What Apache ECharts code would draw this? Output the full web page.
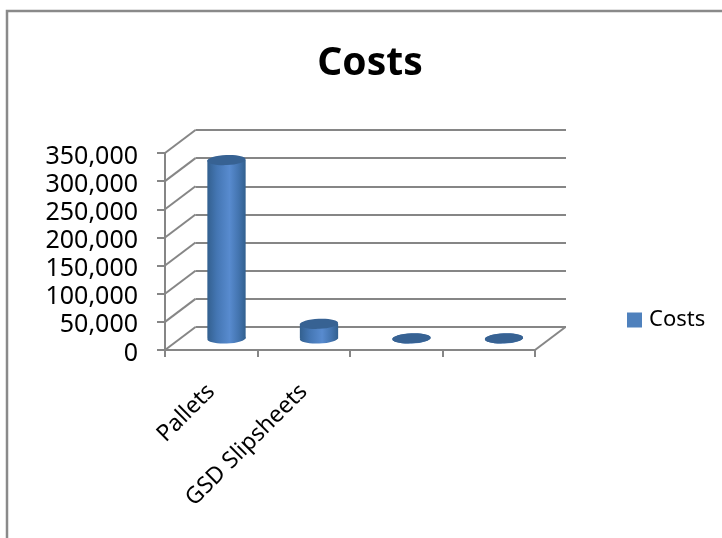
<!DOCTYPE html>
<html>
<head>
<meta charset="utf-8">
<style>html,body{margin:0;padding:0;background:#fff}#c{width:722px;height:538px}</style>
<script src="https://cdn.jsdelivr.net/npm/echarts@6/dist/echarts.min.js"></script>
</head>
<body>
<div id="c"></div>
<script>
const categories = ['Pallets', 'GSD Slipsheets', '', ''];
const costs = [317000, 26000, 300, 300];
const yTicks = [0, 50000, 100000, 150000, 200000, 250000, 300000, 350000];
const seriesName = 'Costs';

const DEPTH_X = 30.5, DEPTH_Y = -23;
const LINE = '#868686';
const FONT = '"Noto Sans", sans-serif';
const chart = echarts.init(document.getElementById('c'), null, {renderer: 'canvas'});

function wallLine(p0, p1) {
  return {type: 'line', shape: {x1: p0[0], y1: p0[1], x2: p1[0], y2: p1[1]},
    style: {stroke: LINE, lineWidth: 2}, silent: true};
}
function renderWall(params, api) {
  const halfBand = api.size([1, 0])[0] / 2;
  const p = api.coord([0, api.value(0)]);
  const front = [p[0] - halfBand, p[1]];
  const kids = [wallLine(front, [front[0] + DEPTH_X, front[1] + DEPTH_Y])];
  if (api.value(0) === 0) {
    const q = api.coord([categories.length - 1, 0]);
    const fr = [q[0] + halfBand, q[1]];
    kids.push(wallLine(fr, [fr[0] + DEPTH_X, fr[1] + DEPTH_Y]));
  }
  return {type: 'group', children: kids};
}
function renderBar(params, api) {
  const base = api.coord([api.value(0), 0]);
  const top = api.coord([api.value(0), api.value(1)]);
  const cx = base[0] + DEPTH_X / 2;
  const by = base[1] + DEPTH_Y / 2;
  const ty = top[1] + DEPTH_Y / 2;
  const rx = api.size([1, 0])[0] * 0.207;
  const ry = 5, tilt = 0.045;
  const grad = new echarts.graphic.LinearGradient(0, 0, 1, 0, [
    {offset: 0, color: '#33608F'},
    {offset: 0.25, color: '#4476B3'},
    {offset: 0.58, color: '#588BCF'},
    {offset: 0.82, color: '#4374AF'},
    {offset: 1, color: '#32608F'}
  ]);
  const ell = (y, fill) => ({type: 'ellipse',
    x: cx, y: y, rotation: tilt,
    shape: {cx: 0, cy: 0, rx: rx, ry: ry},
    style: {fill: fill}});
  return {type: 'group', children: [
    ell(by, grad),
    {type: 'rect', shape: {x: cx - rx, y: ty, width: rx * 2, height: Math.max(by - ty, 0)}, style: {fill: grad}},
    ell(ty, '#376293')
  ]};
}

chart.setOption({
  animation: false,
  backgroundColor: '#fff',
  title: {text: 'Costs', left: 365, top: 39, textAlign: 'center',
    textStyle: {fontFamily: FONT, fontSize: 39, fontWeight: 'bold', color: '#000'}},
  legend: {data: [seriesName], left: 622, top: 304, itemWidth: 15, itemHeight: 15, itemGap: 7,
    icon: 'rect',
    textStyle: {fontFamily: FONT, fontSize: 22, color: '#000', padding: [2, 0, 0, 2]}},
  graphic: [{type: 'rect', z: -1, shape: {x: 7, y: 11, width: 760, height: 580},
    style: {fill: 'none', stroke: '#8A8A8A', lineWidth: 2.5}, silent: true}],
  grid: [
    {left: 165, top: 153, width: 370, height: 197},
    {left: 195.5, top: 130, width: 370.5, height: 197}
  ],
  xAxis: [
    {type: 'category', gridIndex: 0, data: categories,
      axisLine: {show: true, lineStyle: {color: LINE, width: 2}},
      axisTick: {show: true, length: 7, alignWithLabel: false, interval: 0, lineStyle: {color: LINE, width: 2}},
      axisLabel: {interval: 0, rotate: 45, margin: 38, fontFamily: FONT, fontSize: 23, color: '#000'},
      splitLine: {show: false}},
    {type: 'category', gridIndex: 1, data: categories,
      axisLine: {show: false}, axisTick: {show: false}, axisLabel: {show: false}, splitLine: {show: false}}
  ],
  yAxis: [
    {type: 'value', gridIndex: 0, min: 0, max: 350000, interval: 50000,
      axisLine: {show: true, lineStyle: {color: LINE, width: 2}},
      axisTick: {show: true, length: 8, lineStyle: {color: LINE, width: 2}},
      axisLabel: {margin: 27, color: '#000',
        formatter: v => '{n|' + v.toLocaleString('en-US') + '}',
        rich: {n: {fontFamily: FONT, fontSize: 25, color: '#000', padding: [7, 0, 0, 0]}}},
      splitLine: {show: false}},
    {type: 'value', gridIndex: 1, min: 0, max: 350000, interval: 50000,
      axisLine: {show: false}, axisTick: {show: false}, axisLabel: {show: false},
      splitLine: {show: true, lineStyle: {color: LINE, width: 2, type: 'solid'}}}
  ],
  series: [
    {type: 'custom', name: 'walls', xAxisIndex: 0, yAxisIndex: 0, z: 1, silent: true, clip: false,
      renderItem: renderWall, data: yTicks.map(v => [v]), encode: {y: 0}},
    {type: 'custom', name: seriesName, xAxisIndex: 0, yAxisIndex: 0, z: 5, clip: false,
      itemStyle: {color: '#4F81BD'},
      renderItem: renderBar,
      data: costs.map((v, i) => [i, v]), encode: {x: 0, y: 1}}
  ]
});
</script>
</body>
</html>
